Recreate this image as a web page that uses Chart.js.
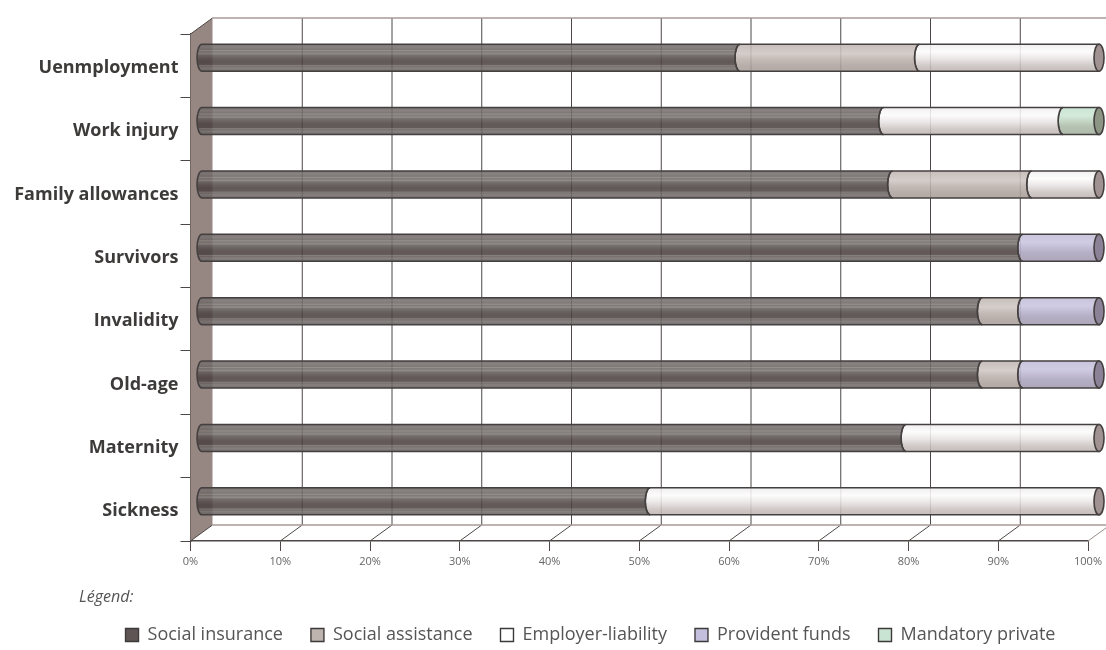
<!DOCTYPE html>
<html>
<head>
<meta charset="utf-8">
<style>html,body{margin:0;padding:0;background:#fff}#wrap{width:1106px;height:650px}</style>
<script src="https://cdn.jsdelivr.net/npm/chart.js@4"></script>
</head>
<body>
<div id="wrap"><canvas id="c" width="1106" height="650"></canvas></div>
<script>
const categories = ['Uenmployment','Work injury','Family allowances','Survivors','Invalidity','Old-age','Maternity','Sickness'];
const socialInsurance = [60,76,77,91.5,87,87,78.5,50];
const socialAssistance = [20,0,15.5,0,4.5,4.5,0,0];
const employerLiability = [20,20,7.5,0,0,0,21.5,50];
const providentFunds = [0,0,0,8.5,8.5,8.5,0,0];
const mandatoryPrivate = [0,4,0,0,0,0,0,0];
const percentTicks = [0,10,20,30,40,50,60,70,80,90,100];

// Offset of the back wall from the front plane of the 3D box.
const DEPTH_X = 22, DEPTH_Y = -16;
const CAP_RX = 5;
const OUTLINE = '#454040';
const FONT = '"Open Sans"';

const darkBands = [[0,'#666160'],[.1,'#787270'],[.2,'#6c6664'],[.24,'#88837f'],[.28,'#6d6765'],[.36,'#827c7a'],[.4,'#665f5e'],[.5,'#574f4e'],[.62,'#4c4241'],[.75,'#4e4443'],[.78,'#75706e'],[.82,'#645c5b'],[.88,'#75706e'],[1,'#625b5a']];
const taupeBands = [[0,'#bfb5b1'],[.35,'#cec6c3'],[.6,'#b9aeaa'],[.8,'#ada29d'],[1,'#a89d98']];
const whiteBands = [[0,'#eeecec'],[.28,'#fcfbfb'],[.55,'#e6e2e1'],[.8,'#c9c1be'],[1,'#bdb4b1']];
const lilacBands = [[0,'#c0bcd8'],[.3,'#c9c5df'],[.7,'#aaa3bd'],[1,'#a29ab0']];
const greenBands = [[0,'#c4e0cd'],[.3,'#cde7d5'],[.7,'#abbaa7'],[1,'#a3b09f']];

// Bars rendered as translucent cylinders, shifted to the middle of the box depth.
class CylinderController extends Chart.BarController {
  draw() {
    const ctx = this._ctx, ds = this.getDataset(), xs = this._cachedMeta.xScale;
    const end = xs.getPixelForValue(100);
    ctx.save();
    ctx.translate(DEPTH_X / 2, DEPTH_Y / 2);
    this._cachedMeta.data.forEach((el, i) => {
      if (!ds.data[i]) return;
      const top = el.y - el.height / 2, bottom = el.y + el.height / 2, ry = el.height / 2;
      const last = el.x >= end - 0.5;
      const g = ctx.createLinearGradient(0, top, 0, bottom);
      ds.bands.forEach(s => g.addColorStop(s[0], s[1]));

      // Left end bulges outwards; the right end is hollowed to fit the next segment.
      ctx.beginPath();
      ctx.ellipse(el.base, el.y, CAP_RX, ry, 0, -Math.PI / 2, Math.PI / 2, true);
      ctx.lineTo(el.x, bottom);
      if (last) ctx.lineTo(el.x, top);
      else ctx.ellipse(el.x, el.y, CAP_RX, ry, 0, Math.PI / 2, -Math.PI / 2, false);
      ctx.closePath();
      ctx.globalAlpha = 0.88;
      ctx.fillStyle = g;
      ctx.fill();
      ctx.globalAlpha = 1;
      ctx.strokeStyle = OUTLINE;
      ctx.lineWidth = 1.6;
      ctx.stroke();

      if (last) {
        ctx.beginPath();
        ctx.ellipse(el.x, el.y, CAP_RX, ry, 0, 0, Math.PI * 2);
        ctx.fillStyle = ds.capColor;
        ctx.fill();
        ctx.stroke();
      }
    });
    ctx.restore();
  }
}
CylinderController.id = 'cylinder';
CylinderController.defaults = Object.assign({}, Chart.BarController.defaults);
CylinderController.overrides = Chart.BarController.overrides;
Chart.register(CylinderController);

// Side wall, back wall grid and floor of the box, behind the bars.
const boxPlugin = {
  id: 'box',
  afterLayout(chart) {
    // Category labels are wider than the reserved axis box; let them run to the canvas edge.
    chart.scales.y.left = 0;
  },
  beforeDatasetsDraw(chart) {
    const { ctx, chartArea: a, scales: { x } } = chart;
    const bl = a.left + DEPTH_X, bt = a.top + DEPTH_Y, bb = a.bottom + DEPTH_Y;
    ctx.save();
    ctx.fillStyle = '#968783';
    ctx.beginPath();
    ctx.moveTo(a.left, a.top);
    ctx.lineTo(bl, bt);
    ctx.lineTo(bl, bb);
    ctx.lineTo(a.left, a.bottom);
    ctx.closePath();
    ctx.fill();

    ctx.lineWidth = 1;
    ctx.strokeStyle = '#4d4747';
    percentTicks.slice(1).forEach(v => {
      const px = x.getPixelForValue(v);
      ctx.beginPath();
      ctx.moveTo(px + DEPTH_X, bt);
      ctx.lineTo(px + DEPTH_X, bb);
      ctx.stroke();
    });
    percentTicks.forEach(v => {
      const px = x.getPixelForValue(v);
      ctx.strokeStyle = v === 100 ? '#9a8c88' : '#4d4747';
      ctx.beginPath();
      ctx.moveTo(px, a.bottom);
      ctx.lineTo(px + DEPTH_X, bb);
      ctx.stroke();
    });

    ctx.strokeStyle = '#4d4747';
    ctx.beginPath();
    ctx.moveTo(a.left, a.top);
    ctx.lineTo(bl, bt);
    ctx.stroke();

    ctx.strokeStyle = '#a89a96';
    ctx.lineWidth = 1.5;
    ctx.beginPath();
    ctx.moveTo(bl, bt);
    ctx.lineTo(a.right + DEPTH_X, bt);
    ctx.moveTo(bl, bb);
    ctx.lineTo(a.right + DEPTH_X, bb);
    ctx.stroke();
    ctx.restore();
  },
  afterDraw(chart) {
    const ctx = chart.ctx;
    ctx.save();
    ctx.font = 'italic 16px ' + FONT;
    ctx.fillStyle = '#555';
    ctx.textBaseline = 'alphabetic';
    ctx.fillText('Légend:', 79, 602);
    ctx.restore();
  }
};

function series(label, data, bands, fill, capColor) {
  return { type: 'cylinder', label, data, bands, capColor, backgroundColor: fill, borderColor: '#3f3a3a', borderWidth: 1.4, barThickness: 27, clip: false };
}

new Chart(document.getElementById('c'), {
  type: 'bar',
  plugins: [boxPlugin],
  data: {
    labels: categories,
    datasets: [
      series('Social insurance', socialInsurance, darkBands, '#5f5554', '#6b6160'),
      series('Social assistance', socialAssistance, taupeBands, '#bdb3af', '#9a8c88'),
      series('Employer-liability', employerLiability, whiteBands, '#ffffff', '#a09290'),
      series('Provident funds', providentFunds, lilacBands, '#c3bfdc', '#8c8298'),
      series('Mandatory private', mandatoryPrivate, greenBands, '#c9e4d2', '#8d9585')
    ]
  },
  options: {
    indexAxis: 'y',
    responsive: false,
    animation: false,
    layout: { padding: { left: 92.5, right: 17.5, top: 34, bottom: -4 } },
    plugins: {
      tooltip: { enabled: false },
      legend: {
        position: 'bottom',
        labels: {
          boxWidth: 13, boxHeight: 13, padding: 28,
          color: '#555',
          font: { family: FONT, size: 18 },
          sort: (a, b) => a.datasetIndex - b.datasetIndex
        }
      }
    },
    scales: {
      x: {
        stacked: true, min: 0, max: 100,
        afterFit(s) { s.height = 57; },
        afterBuildTicks(s) { s.ticks = percentTicks.map(value => ({ value })); },
        border: { color: '#4d4747', width: 1.5 },
        grid: { drawOnChartArea: false, drawTicks: true, tickLength: 10, color: '#4d4747' },
        ticks: { autoSkip: false, maxRotation: 0, padding: 4, color: '#666', font: { family: FONT, size: 11 }, callback: v => v + '%' }
      },
      y: {
        stacked: true,
        afterFit(s) { s.width = 98; },
        border: { color: '#4d4747', width: 1.5 },
        grid: { drawOnChartArea: false, drawTicks: true, tickLength: 10, color: '#4d4747' },
        ticks: { autoSkip: false, padding: 2, labelOffset: 2, color: '#3d3a3a', font: { family: FONT, size: 18, weight: '700' } }
      }
    }
  }
});
</script>
</body>
</html>
